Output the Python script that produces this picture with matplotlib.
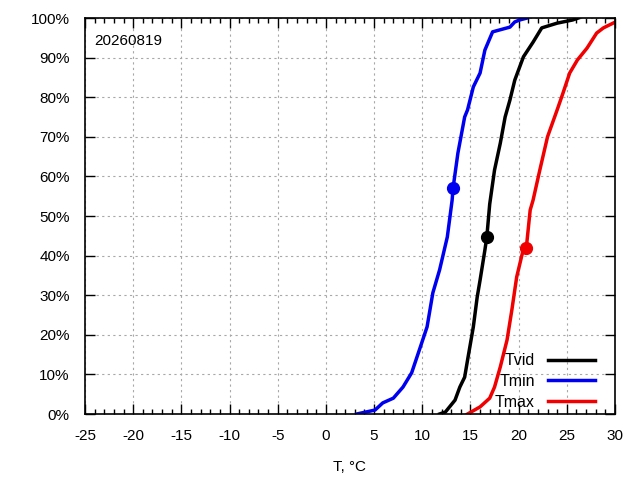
import matplotlib as mpl
mpl.use('Agg')
import matplotlib.pyplot as plt
from matplotlib.ticker import MultipleLocator, FuncFormatter

plt.rcParams['font.family'] = ['Liberation Sans', 'DejaVu Sans']
plt.rcParams['font.size'] = 10.5
plt.rcParams['axes.unicode_minus'] = False

date_label = '20260819'

tvid_t = [11.8, 12.4, 13.4, 13.9, 14.4, 14.7, 15.3, 15.7, 16.0, 16.5, 16.7, 17.0,
          17.5, 18.1, 18.6, 19.1, 19.6, 20.5, 21.5, 22.4, 24.0, 25.6, 26.2]
tvid_p = [0, 0.5, 3.5, 6.8, 9.3, 13.6, 22, 29.5, 33.8, 41.4, 44.7, 53,
          61.6, 68.4, 75, 79.3, 84.3, 90.2, 93.9, 97.5, 98.7, 99.5, 100]

tmin_t = [3.2, 5.1, 5.9, 7.0, 8.0, 8.9, 9.8, 10.5, 11.1, 11.8, 12.6, 13.1, 13.2,
          13.7, 14.4, 14.7, 15.3, 16.0, 16.5, 17.3, 19.1, 19.6, 20.1, 20.9]
tmin_p = [0, 1.0, 2.8, 4.0, 6.8, 10.4, 16.9, 22, 30.6, 36.4, 44.7, 54, 57.1,
          65.9, 75, 76.8, 82.6, 86.1, 91.9, 96.5, 97.7, 99, 99.5, 100]

tmax_t = [14.7, 16.0, 17.0, 17.5, 18.1, 18.8, 19.3, 19.8, 20.4, 20.8, 21.2, 21.5,
          22.2, 23.0, 24.0, 24.6, 25.3, 26.1, 27.1, 28.1, 28.8, 29.8, 30.3]
tmax_p = [0, 1.8, 4, 6.8, 11.9, 18.7, 26.3, 34.6, 40.7, 42, 51.5, 54,
          61.6, 70, 76.8, 81, 86.1, 89.4, 92.4, 96.2, 97.5, 98.7, 99.3]

# today's values (markers)
today_t = {'Tvid': 16.7, 'Tmin': 13.2, 'Tmax': 20.8}
today_p = {'Tvid': 44.7, 'Tmin': 57.1, 'Tmax': 42.0}

series = [('Tvid', tvid_t, tvid_p, 'black'),
          ('Tmin', tmin_t, tmin_p, '#0000f0'),
          ('Tmax', tmax_t, tmax_p, '#f00000')]

fig = plt.figure(figsize=(6.4, 4.8), dpi=100)
ax = fig.add_axes([0.1328, 0.1375, 0.8281, 0.825])

for name, t, p, c in series:
    ax.plot(t, p, color=c, lw=2.5, label=name)
    ax.plot(today_t[name], today_p[name], 'o', color=c, ms=8.5)

ax.set_xlim(-25, 30)
ax.set_ylim(0, 100)
ax.xaxis.set_major_locator(MultipleLocator(5))
ax.xaxis.set_minor_locator(MultipleLocator(1))
ax.yaxis.set_major_locator(MultipleLocator(10))
ax.yaxis.set_major_formatter(FuncFormatter(lambda v, pos: '%d%%' % v))
ax.tick_params(which='major', direction='in', length=7, width=1, top=True, right=True, labelsize=11)
ax.tick_params(which='minor', direction='in', length=3.5, width=1, top=True)
ax.tick_params(axis='x', pad=11)
ax.tick_params(axis='y', pad=11)
ax.grid(True, which='major', color='#a8a8a8', linestyle=(0, (2, 3)), lw=0.8)
for s in ax.spines.values():
    s.set_linewidth(1.2)

ax.set_xlabel('T, °C', fontsize=11, labelpad=12)
ax.text(0.018, 0.96, date_label, transform=ax.transAxes, ha='left', va='top', fontsize=11)

ax.legend(loc='lower right', frameon=False, markerfirst=False, handlelength=2.95,
          handletextpad=0.8, labelspacing=0.35, fontsize=11.5,
          bbox_to_anchor=(0.989, -0.025))

plt.savefig('out.png', dpi=100)
